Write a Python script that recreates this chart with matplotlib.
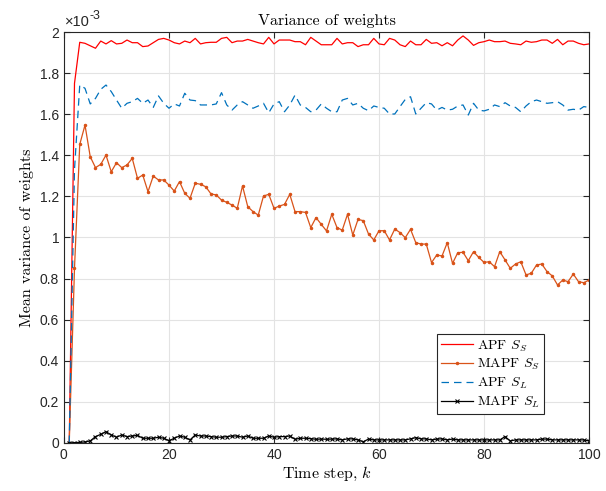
import numpy as np
import matplotlib
matplotlib.use('Agg')
from matplotlib import pyplot as plt

# values are in units of 1e-3
k = np.arange(1, 101)

apf_ss = [0, 1.75,
          1.950, 1.945, 1.933, 1.921, 1.956, 1.942, 1.958, 1.942, 1.945, 1.961,
          1.948, 1.948, 1.929, 1.932, 1.948, 1.964, 1.969, 1.961, 1.948, 1.942,
          1.956, 1.948, 1.969, 1.942, 1.948, 1.950, 1.950, 1.969, 1.974, 1.948,
          1.956,
          1.956, 1.964, 1.956, 1.948, 1.942, 1.974, 1.942, 1.961, 1.961, 1.961,
          1.953, 1.953, 1.938, 1.974, 1.956, 1.938, 1.938, 1.938, 1.969, 1.942,
          1.948, 1.948, 1.929, 1.938, 1.938, 1.969, 1.942, 1.938, 1.969, 1.961,
          1.938, 1.929, 1.956,
          1.938, 1.938, 1.964, 1.945, 1.948, 1.933, 1.948, 1.933, 1.961, 1.981,
          1.961, 1.935, 1.948, 1.953, 1.961, 1.953, 1.953, 1.956, 1.945, 1.942,
          1.938, 1.956, 1.950, 1.953, 1.961, 1.961, 1.945, 1.964, 1.938, 1.956,
          1.956, 1.945, 1.938, 1.942]

mapf_ss = [0, 0.85,
           1.453, 1.547, 1.393, 1.340, 1.356, 1.401, 1.320, 1.364, 1.340, 1.353,
           1.385, 1.288, 1.304, 1.223, 1.299, 1.280, 1.280, 1.255, 1.226, 1.272,
           1.215, 1.191, 1.264, 1.259, 1.247, 1.212, 1.207, 1.182, 1.171, 1.158,
           1.142,
           1.251, 1.150, 1.126, 1.109, 1.202, 1.210, 1.142, 1.153, 1.161, 1.210,
           1.126, 1.126, 1.122, 1.048, 1.097, 1.064, 1.032, 1.113, 1.048, 1.036,
           1.113, 1.012, 1.088, 1.082, 1.017, 0.988, 1.033, 1.033, 0.988, 1.041,
           1.024, 0.999, 1.040, 0.975,
           0.968, 0.968, 0.878, 0.915, 0.910, 0.975, 0.874, 0.926, 0.928, 0.887,
           0.931, 0.903, 0.879, 0.882, 0.858, 0.931, 0.891, 0.850, 0.871, 0.882,
           0.818, 0.826, 0.866, 0.871, 0.834, 0.813, 0.769, 0.793, 0.785, 0.822,
           0.785, 0.780, 0.793]

apf_sl = [0, 1.33,
          1.742, 1.726, 1.650, 1.677, 1.721, 1.742, 1.710, 1.669, 1.629, 1.653,
          1.661, 1.677, 1.653, 1.669, 1.633, 1.689, 1.653, 1.629, 1.650, 1.640,
          1.702, 1.669, 1.666, 1.645, 1.645, 1.645, 1.650, 1.705, 1.645, 1.620,
          1.645,
          1.661, 1.645, 1.629, 1.640, 1.653, 1.607, 1.650, 1.661, 1.612, 1.645,
          1.693, 1.645, 1.633, 1.612, 1.620, 1.650, 1.629, 1.612, 1.612, 1.669,
          1.677, 1.645, 1.653, 1.629, 1.617, 1.640, 1.633, 1.629, 1.601, 1.601,
          1.637, 1.672, 1.685,
          1.601, 1.629, 1.656, 1.650, 1.620, 1.633, 1.620, 1.624, 1.640, 1.645,
          1.596, 1.653, 1.620, 1.616, 1.624, 1.645, 1.637, 1.656, 1.640, 1.633,
          1.612, 1.640, 1.661, 1.669, 1.661, 1.653, 1.656, 1.661, 1.645, 1.620,
          1.624, 1.620, 1.637, 1.633]

mapf_sl = [0, 0.002, 0.003, 0.005, 0.010, 0.031, 0.042, 0.055, 0.039, 0.028,
           0.039, 0.031, 0.034, 0.037, 0.023, 0.023, 0.023, 0.028, 0.023, 0.011,
           0.023, 0.034, 0.028, 0.015, 0.039, 0.034, 0.034, 0.031, 0.028, 0.028,
           0.031, 0.034, 0.034, 0.028, 0.034, 0.023, 0.023, 0.023, 0.034, 0.028,
           0.031, 0.031, 0.034, 0.018, 0.023, 0.023, 0.021, 0.018, 0.019, 0.018,
           0.019, 0.020, 0.015, 0.020, 0.020, 0.015, 0.006, 0.019, 0.015, 0.015,
           0.015, 0.015, 0.015, 0.015, 0.015, 0.020, 0.026, 0.020, 0.020, 0.015,
           0.019, 0.020, 0.015, 0.019, 0.015, 0.015, 0.015, 0.015, 0.015, 0.015,
           0.015, 0.015, 0.015, 0.031, 0.010, 0.015, 0.015, 0.015, 0.015, 0.015,
           0.019, 0.019, 0.015, 0.015, 0.015, 0.015, 0.015, 0.015, 0.015, 0.010]

labels = ['APF $S_S$', 'MAPF $S_S$', 'APF $S_L$', 'MAPF $S_L$']

plt.rcParams['mathtext.fontset'] = 'cm'
plt.rcParams['axes.formatter.use_mathtext'] = True
dark = '#262626'
serif = 'cmr10'

fig = plt.figure(figsize=(6.06, 4.91), dpi=100)
ax = fig.add_axes([0.1056, 0.0978, 0.8664, 0.837])

ax.plot(k, apf_ss, color='#FF0000', lw=0.9, label=labels[0])
ax.plot(k, mapf_ss, color='#D95319', lw=0.9, marker='.', ms=3, label=labels[1])
ax.plot(k, apf_sl, color='#0072BD', lw=0.9, ls=(0, (6, 4)), label=labels[2])
ax.plot(k, mapf_sl, color='k', lw=0.9, marker='x', ms=3.5, mew=0.8, label=labels[3])

ax.set_xlim(0, 100)
ax.set_ylim(0, 2)
ax.set_xticks(np.arange(0, 101, 20))
ax.set_yticks(np.arange(0, 2.01, 0.2))
ax.set_yticklabels(['0', '0.2', '0.4', '0.6', '0.8', '1', '1.2', '1.4', '1.6', '1.8', '2'])
ax.grid(True, color='#e3e3e3', lw=0.8)
ax.set_axisbelow(True)
for s in ax.spines.values():
    s.set_color(dark)
    s.set_linewidth(0.8)
ax.tick_params(direction='in', length=4, width=0.8, top=True, right=True,
               colors=dark, labelsize=10)
for t in ax.get_xticklabels() + ax.get_yticklabels():
    t.set_fontfamily('Liberation Sans')

ax.set_title('Variance of weights', fontfamily=serif, fontsize=11.5, pad=5)
ax.set_xlabel('Time step, $k$', fontfamily=serif, fontsize=11.5, labelpad=2)
ax.set_ylabel('Mean variance of weights', fontfamily=serif, fontsize=11.5, labelpad=4)

# exponent label, MATLAB style
fig.text(65 / 606, 1 - 26 / 491, '\u00d710', fontfamily='Liberation Sans',
         fontsize=10.5, color=dark)
fig.text(89 / 606, 1 - 19 / 491, '-3', fontfamily='Liberation Sans',
         fontsize=9, color=dark)

leg = ax.legend(loc='lower left', bbox_to_anchor=(0.71, 0.07), fancybox=False,
                framealpha=1, edgecolor=dark, prop={'family': serif, 'size': 10},
                handlelength=2.3, handletextpad=0.3, labelspacing=0.25,
                borderpad=0.3, borderaxespad=0)
leg.get_frame().set_linewidth(0.8)

fig.savefig('out.png', dpi=100)
